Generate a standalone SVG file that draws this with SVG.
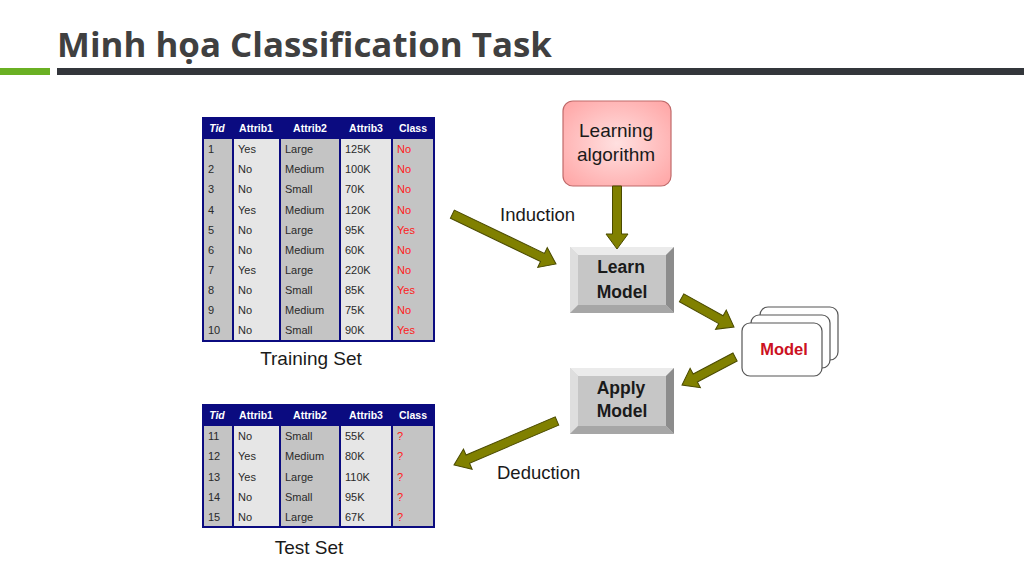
<svg xmlns="http://www.w3.org/2000/svg" width="1024" height="576" viewBox="0 0 1024 576">
<defs>
<radialGradient id="pink" cx="50%" cy="50%" r="65%">
<stop offset="0" stop-color="#ffe0e0"/>
<stop offset="1" stop-color="#ffa8a8"/>
</radialGradient>
</defs>
<style>
.title{font-family:"Open Sans","Liberation Sans",sans-serif;font-weight:700;font-size:34px;fill:#404040}
.hd{font-family:"Liberation Sans",Arial,sans-serif;font-weight:700;font-size:10.5px;fill:#ffffff;text-anchor:middle}
.td{font-family:"Liberation Sans",Arial,sans-serif;font-size:11px;fill:#2a2a2a}
.cls{fill:#ff1a1a}
.cap{font-family:"Liberation Sans",Arial,sans-serif;font-size:19px;fill:#1a1a1a;text-anchor:middle}
.lbl{font-family:"Liberation Sans",Arial,sans-serif;font-size:18.5px;fill:#1a1a1a}
.btn{font-family:"Liberation Sans",Arial,sans-serif;font-weight:700;font-size:17.5px;fill:#1a1a1a;text-anchor:middle}
.mdl{font-family:"Liberation Sans",Arial,sans-serif;font-weight:700;font-size:16.5px;fill:#cc1122;text-anchor:middle}
.arrow{fill:#808000;stroke:#4a4a00;stroke-width:1}
.gray{fill:#c4c4c4}
.light{fill:#e6e6e6}
.navy{fill:#0b0b80}
.div{stroke:#0b0b80;stroke-width:2}
.card{fill:#ffffff;stroke:#555555;stroke-width:1.2}
</style>
<rect width="1024" height="576" fill="#ffffff"/>
<g id="header">
<text class="title" x="57" y="57" textLength="495" lengthAdjust="spacingAndGlyphs">Minh họa Classification Task</text>
<rect x="0" y="68" width="50" height="7" fill="#6ab023"/>
<rect x="57" y="68" width="967" height="7" fill="#33363b"/>
</g>
<g id="training-set">
<rect class="gray" x="203" y="139" width="30" height="202"/>
<rect class="light" x="233" y="139" width="47" height="202"/>
<rect class="gray" x="280" y="139" width="60" height="202"/>
<rect class="light" x="340" y="139" width="52" height="202"/>
<rect class="gray" x="392" y="139" width="42" height="202"/>
<rect class="navy" x="203" y="118" width="231" height="21"/>
<line class="div" x1="233" y1="139" x2="233" y2="341"/>
<line class="div" x1="280" y1="139" x2="280" y2="341"/>
<line class="div" x1="340" y1="139" x2="340" y2="341"/>
<line class="div" x1="392" y1="139" x2="392" y2="341"/>
<rect x="203" y="118" width="231" height="223" fill="none" stroke="#0b0b80" stroke-width="2"/>
<text class="hd" x="217" y="132" font-style="italic">Tid</text>
<text class="hd" x="256" y="132">Attrib1</text>
<text class="hd" x="310" y="132">Attrib2</text>
<text class="hd" x="366" y="132">Attrib3</text>
<text class="hd" x="413" y="132">Class</text>
<g class="td">
<text x="208" y="153">1</text><text x="238" y="153">Yes</text><text x="285" y="153">Large</text><text x="345" y="153">125K</text><text class="cls" x="397" y="153">No</text>
<text x="208" y="173">2</text><text x="238" y="173">No</text><text x="285" y="173">Medium</text><text x="345" y="173">100K</text><text class="cls" x="397" y="173">No</text>
<text x="208" y="193">3</text><text x="238" y="193">No</text><text x="285" y="193">Small</text><text x="345" y="193">70K</text><text class="cls" x="397" y="193">No</text>
<text x="208" y="214">4</text><text x="238" y="214">Yes</text><text x="285" y="214">Medium</text><text x="345" y="214">120K</text><text class="cls" x="397" y="214">No</text>
<text x="208" y="234">5</text><text x="238" y="234">No</text><text x="285" y="234">Large</text><text x="345" y="234">95K</text><text class="cls" x="397" y="234">Yes</text>
<text x="208" y="254">6</text><text x="238" y="254">No</text><text x="285" y="254">Medium</text><text x="345" y="254">60K</text><text class="cls" x="397" y="254">No</text>
<text x="208" y="274">7</text><text x="238" y="274">Yes</text><text x="285" y="274">Large</text><text x="345" y="274">220K</text><text class="cls" x="397" y="274">No</text>
<text x="208" y="294">8</text><text x="238" y="294">No</text><text x="285" y="294">Small</text><text x="345" y="294">85K</text><text class="cls" x="397" y="294">Yes</text>
<text x="208" y="314">9</text><text x="238" y="314">No</text><text x="285" y="314">Medium</text><text x="345" y="314">75K</text><text class="cls" x="397" y="314">No</text>
<text x="208" y="334">10</text><text x="238" y="334">No</text><text x="285" y="334">Small</text><text x="345" y="334">90K</text><text class="cls" x="397" y="334">Yes</text>
</g>
<text class="cap" x="311" y="365">Training Set</text>
</g>
<g id="test-set">
<rect class="gray" x="203" y="426" width="30" height="101"/>
<rect class="light" x="233" y="426" width="47" height="101"/>
<rect class="gray" x="280" y="426" width="60" height="101"/>
<rect class="light" x="340" y="426" width="52" height="101"/>
<rect class="gray" x="392" y="426" width="42" height="101"/>
<rect class="navy" x="203" y="405" width="231" height="21"/>
<line class="div" x1="233" y1="426" x2="233" y2="527"/>
<line class="div" x1="280" y1="426" x2="280" y2="527"/>
<line class="div" x1="340" y1="426" x2="340" y2="527"/>
<line class="div" x1="392" y1="426" x2="392" y2="527"/>
<rect x="203" y="405" width="231" height="122" fill="none" stroke="#0b0b80" stroke-width="2"/>
<text class="hd" x="217" y="419" font-style="italic">Tid</text>
<text class="hd" x="256" y="419">Attrib1</text>
<text class="hd" x="310" y="419">Attrib2</text>
<text class="hd" x="366" y="419">Attrib3</text>
<text class="hd" x="413" y="419">Class</text>
<g class="td">
<text x="208" y="440">11</text><text x="238" y="440">No</text><text x="285" y="440">Small</text><text x="345" y="440">55K</text><text class="cls" x="397" y="440">?</text>
<text x="208" y="460">12</text><text x="238" y="460">Yes</text><text x="285" y="460">Medium</text><text x="345" y="460">80K</text><text class="cls" x="397" y="460">?</text>
<text x="208" y="481">13</text><text x="238" y="481">Yes</text><text x="285" y="481">Large</text><text x="345" y="481">110K</text><text class="cls" x="397" y="481">?</text>
<text x="208" y="501">14</text><text x="238" y="501">No</text><text x="285" y="501">Small</text><text x="345" y="501">95K</text><text class="cls" x="397" y="501">?</text>
<text x="208" y="521">15</text><text x="238" y="521">No</text><text x="285" y="521">Large</text><text x="345" y="521">67K</text><text class="cls" x="397" y="521">?</text>
</g>
<text class="cap" x="309" y="554">Test Set</text>
</g>
<g id="learning-algorithm">
<rect x="563" y="101" width="108" height="85" rx="10" fill="url(#pink)" stroke="#c06a6a" stroke-width="1.2"/>
<text class="cap" x="616" y="137">Learning</text>
<text class="cap" x="616" y="161">algorithm</text>
</g>
<g id="learn-model">
<rect x="570" y="247" width="104" height="66" fill="#d0d0d0"/>
<polygon points="570,247 674,247 666,255 578,255" fill="#ebebeb"/>
<polygon points="570,247 578,255 578,305 570,313" fill="#dedede"/>
<polygon points="674,247 674,313 666,305 666,255" fill="#8c8c8c"/>
<polygon points="570,313 674,313 666,305 578,305" fill="#a6a6a6"/>
<rect x="578" y="255" width="88" height="50" fill="#c6c6c6"/>
<text class="btn" x="621" y="273">Learn</text>
<text class="btn" x="622" y="298">Model</text>
</g>
<g id="apply-model">
<rect x="570" y="368" width="104" height="66" fill="#d0d0d0"/>
<polygon points="570,368 674,368 666,376 578,376" fill="#ebebeb"/>
<polygon points="570,368 578,376 578,426 570,434" fill="#dedede"/>
<polygon points="674,368 674,434 666,426 666,376" fill="#8c8c8c"/>
<polygon points="570,434 674,434 666,426 578,426" fill="#a6a6a6"/>
<rect x="578" y="376" width="88" height="50" fill="#c6c6c6"/>
<text class="btn" x="621" y="394">Apply</text>
<text class="btn" x="622" y="417">Model</text>
</g>
<g id="model">
<rect class="card" x="760" y="307" width="78" height="53" rx="8"/>
<rect class="card" x="751" y="315" width="79" height="53" rx="8"/>
<rect class="card" x="742" y="323" width="80" height="53" rx="8"/>
<text class="mdl" x="784" y="355">Model</text>
</g>
<g id="connectors">
<polygon class="arrow" transform="translate(556,264) rotate(25.68)" points="-115,-4.5 -15,-4.5 -15,-11 0,0 -15,11 -15,4.5 -115,4.5"/>
<polygon class="arrow" transform="translate(617,249) rotate(90)" points="-63,-4.5 -15,-4.5 -15,-11 0,0 -15,11 -15,4.5 -63,4.5"/>
<polygon class="arrow" transform="translate(734,327) rotate(29.15)" points="-60,-4.5 -15,-4.5 -15,-11 0,0 -15,11 -15,4.5 -60,4.5"/>
<polygon class="arrow" transform="translate(682,385) rotate(152.15)" points="-60,-4.5 -15,-4.5 -15,-11 0,0 -15,11 -15,4.5 -60,4.5"/>
<polygon class="arrow" transform="translate(454,465) rotate(156.87)" points="-112,-4.5 -15,-4.5 -15,-11 0,0 -15,11 -15,4.5 -112,4.5"/>
<text class="lbl" x="500" y="221">Induction</text>
<text class="lbl" x="497" y="479">Deduction</text>
</g>
</svg>
